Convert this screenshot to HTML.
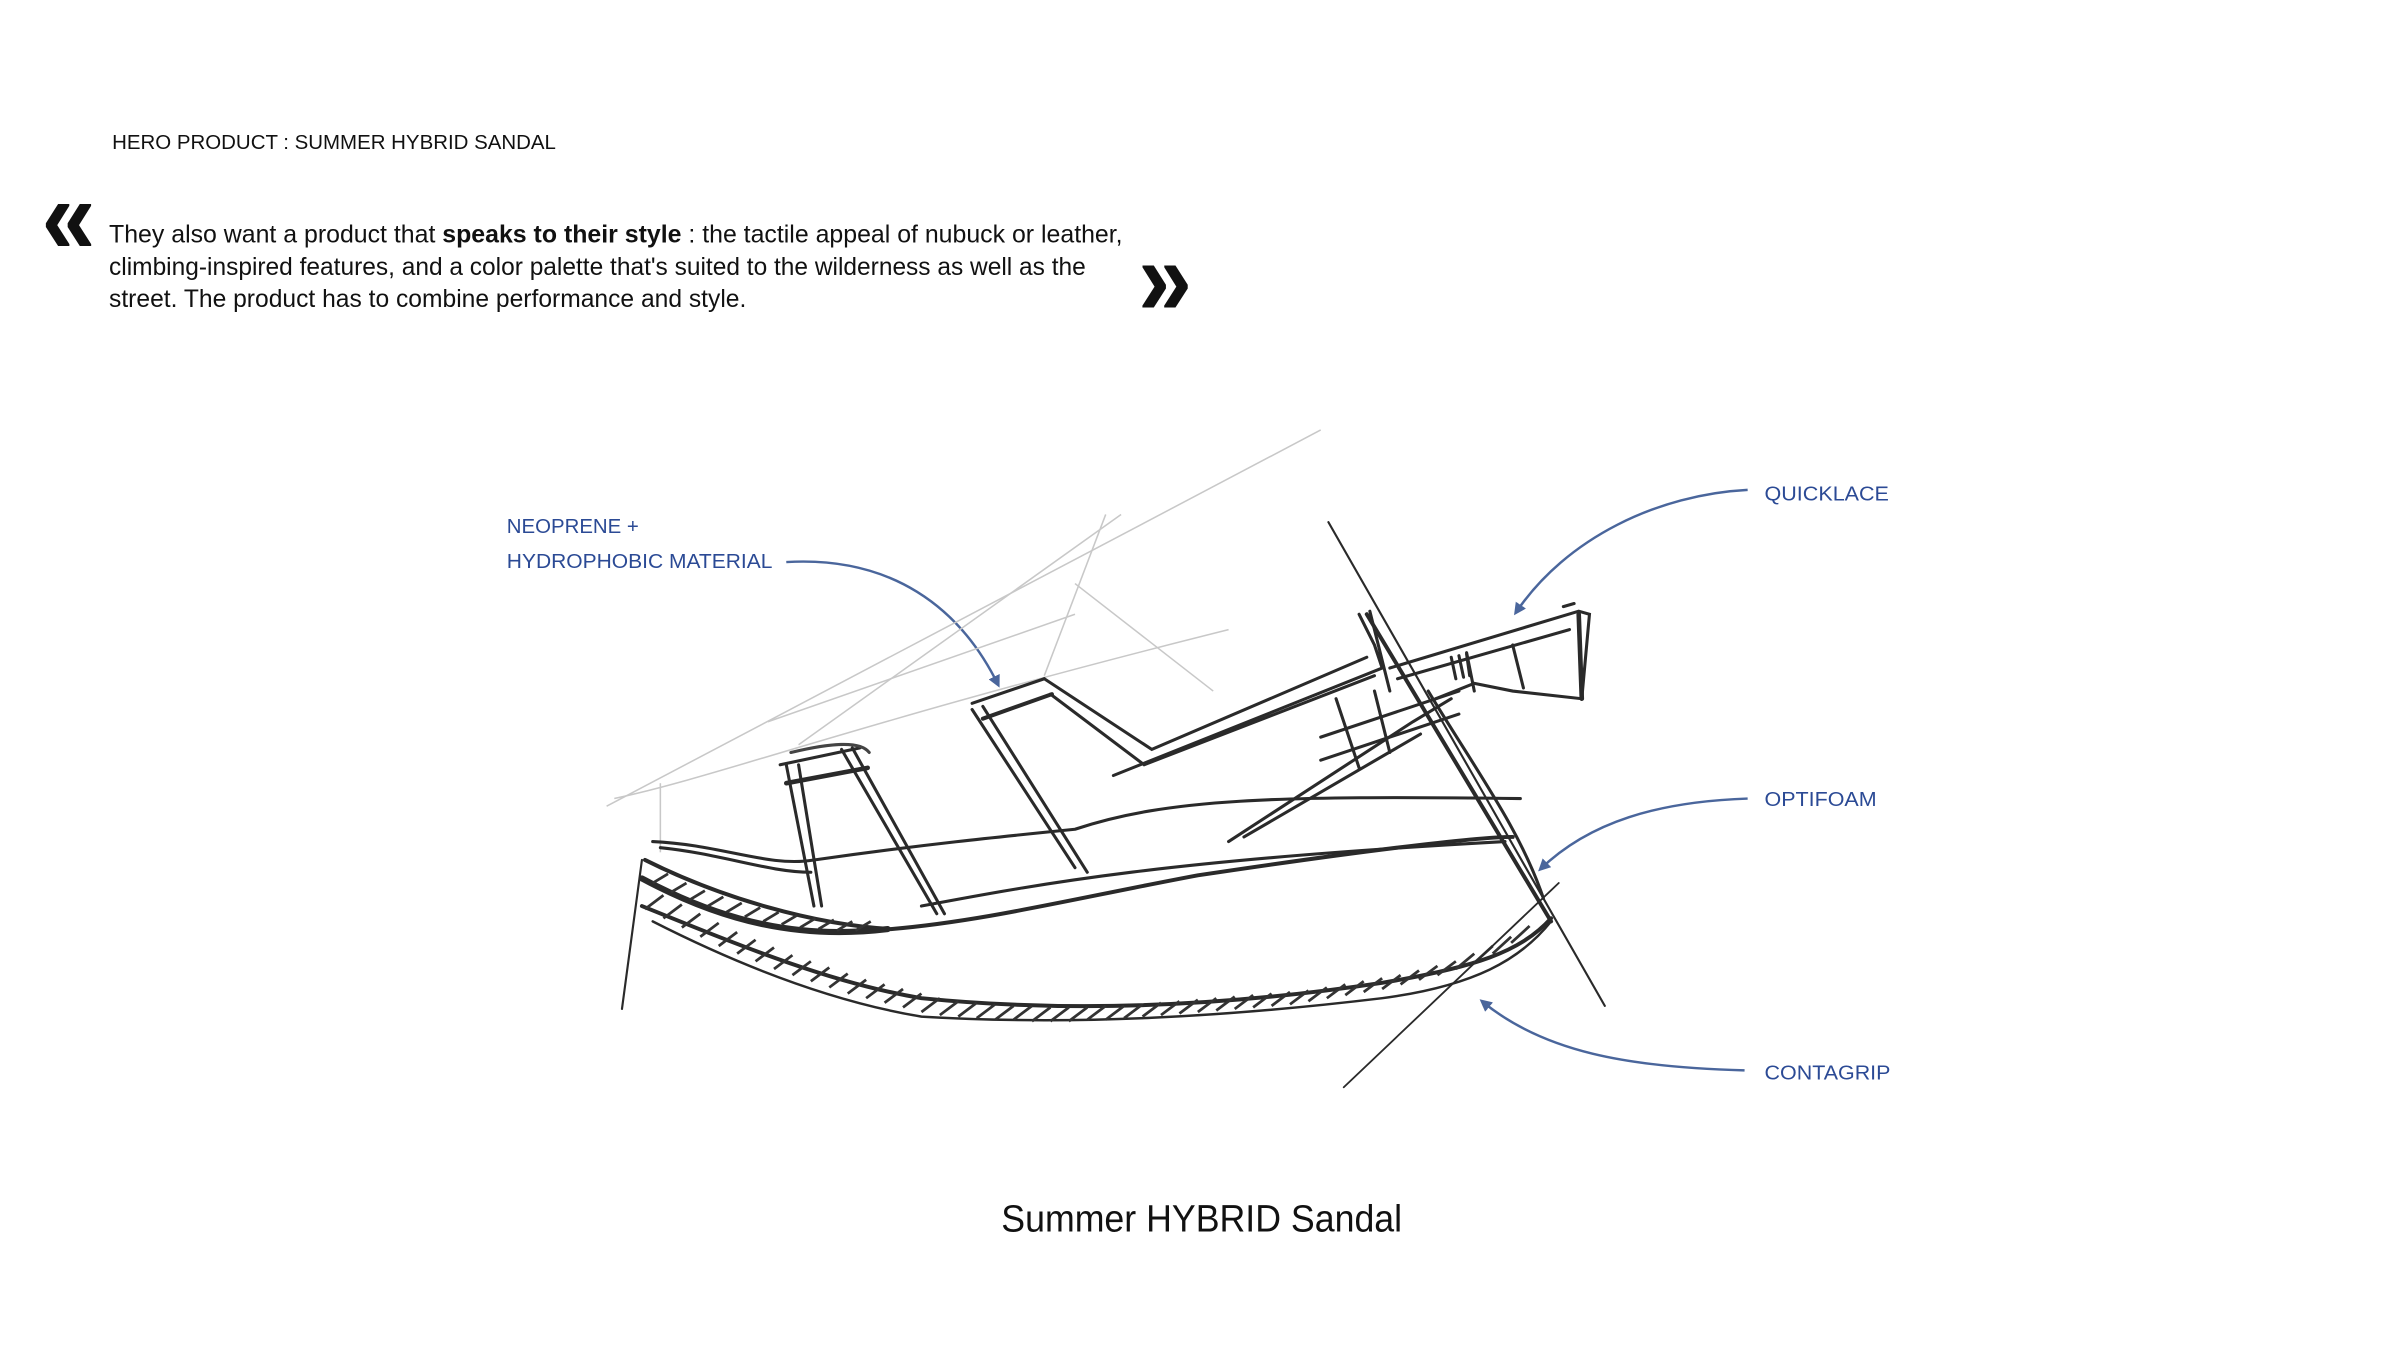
<!DOCTYPE html>
<html><head><meta charset="utf-8"><style>
html,body{margin:0;padding:0;background:#fff;width:2408px;height:1352px;overflow:hidden}
svg{display:block}
text{font-family:"Liberation Sans",sans-serif}
</style></head><body>
<svg width="2408" height="1352" viewBox="0 0 1568 880.4" preserveAspectRatio="none">
<defs>
<marker id="ah" markerWidth="8" markerHeight="8" refX="6" refY="4" orient="auto" markerUnits="userSpaceOnUse"><path d="M0,0 L8,4 L0,8 z" fill="#4a669c"/></marker>
</defs>
<rect width="1568" height="881" fill="#fff"/>
<text x="73" y="97" font-size="13.5" fill="#111" textLength="289" lengthAdjust="spacingAndGlyphs">HERO PRODUCT : SUMMER HYBRID SANDAL</text>
<text transform="translate(27,165) scale(0.55,1.4)" font-size="50" font-weight="bold" fill="#111" textLength="64" lengthAdjust="spacingAndGlyphs">«</text>
<text transform="translate(741,205) scale(0.55,1.4)" font-size="50" font-weight="bold" fill="#111" textLength="64" lengthAdjust="spacingAndGlyphs">»</text>
<g font-size="16" fill="#111">
<text x="71" y="158" textLength="660" lengthAdjust="spacingAndGlyphs">They also want a product that <tspan font-weight="bold">speaks to their style</tspan> : the tactile appeal of nubuck or leather,</text>
<text x="71" y="179" textLength="636" lengthAdjust="spacingAndGlyphs">climbing-inspired features, and a color palette that's suited to the wilderness as well as the</text>
<text x="71" y="200" textLength="415" lengthAdjust="spacingAndGlyphs">street. The product has to combine performance and style.</text>
</g>
<g font-size="13.5" fill="#2b4a95">
<text x="330" y="347" textLength="86" lengthAdjust="spacingAndGlyphs">NEOPRENE +</text>
<text x="330" y="370" textLength="173" lengthAdjust="spacingAndGlyphs">HYDROPHOBIC MATERIAL</text>
<text x="1149" y="326" textLength="81" lengthAdjust="spacingAndGlyphs">QUICKLACE</text>
<text x="1149" y="525" textLength="73" lengthAdjust="spacingAndGlyphs">OPTIFOAM</text>
<text x="1149" y="703" textLength="82" lengthAdjust="spacingAndGlyphs">CONTAGRIP</text>
</g>
<text x="652" y="802" font-size="25" fill="#111" textLength="261" lengthAdjust="spacingAndGlyphs">Summer HYBRID Sandal</text>
<g fill="none" stroke="#4a669c" stroke-width="1.6" marker-end="url(#ah)">
<path d="M512,366 C580,362 625,395 650,446"/>
<path d="M1138,319 C1080,322 1020,350 987,399"/>
<path d="M1138,520 C1080,522 1035,535 1003,566"/>
<path d="M1136,697 C1060,695 1005,685 965,652"/>
</g>
<g fill="none" stroke="#c8c8c8" stroke-width="1">
<path d="M395,525 L860,280"/><path d="M400,520 C470,505 560,470 800,410"/>
<path d="M520,485 L730,335"/><path d="M700,380 L790,450"/><path d="M680,440 L720,335"/>
<path d="M500,470 L700,400"/><path d="M430,510 L430,555"/>
</g>
<g fill="none" stroke="#2a2a2a" stroke-linecap="round" stroke-width="2">
<path d="M425,548 C470,550 500,565 530,560 C600,550 650,545 700,540 C760,520 830,518 990,520"/>
<path d="M430,552 C470,556 500,568 528,568"/>
<path d="M420,560 C470,585 530,602 580,605 C640,600 700,585 780,570 C880,555 960,545 985,545" stroke-width="2.6"/>
<path d="M600,590 C680,575 760,560 980,548"/>
<path d="M418,572 C470,600 520,612 578,605" stroke-width="4"/>
<path d="M418,590 C480,615 540,640 600,650 C700,660 800,655 900,640 C960,630 990,620 1010,598" stroke-width="2.6"/>
<path d="M425,600 C480,628 540,652 600,662 C700,668 800,662 900,650 C960,642 990,625 1010,600" stroke-width="1.6"/>
</g>
<g stroke="#333" stroke-width="1.8" fill="none">
<path d="M420,592 l12,-9 M432,598 l12,-9 M444,604 l12,-9 M456,610 l12,-9 M468,616 l12,-9 M480,621 l12,-9 M492,626 l12,-9 M504,631 l12,-9 M516,635 l12,-9 M528,639 l12,-9 M540,643 l12,-9 M552,647 l12,-9 M564,650 l12,-9 M576,653 l12,-9 M588,656 l12,-9 M600,659 l12,-9 M612,661 l12,-9 M624,662 l12,-9 M636,663 l12,-9 M648,664 l12,-9 M660,664 l12,-9 M672,665 l12,-9 M684,665 l12,-9 M696,665 l12,-9 M708,664 l12,-9 M720,664 l12,-9 M732,663 l12,-9 M744,662 l12,-9 M756,661 l12,-9 M768,660 l12,-9 M780,659 l12,-9 M792,658 l12,-9 M804,657 l12,-9 M816,656 l12,-9 M828,655 l12,-9 M840,654 l12,-9 M852,652 l12,-9 M864,650 l12,-9 M876,648 l12,-9 M888,646 l12,-9 M900,644 l12,-9 M912,641 l12,-9 M924,638 l12,-9 M936,635 l12,-9 M948,631 l12,-10 M960,627 l12,-11 M972,621 l12,-11 M984,614 l12,-11"/>
<path d="M425,575 l10,-6 M437,581 l10,-6 M449,586 l10,-6 M461,590 l10,-6 M473,594 l10,-6 M485,597 l10,-6 M497,600 l10,-6 M509,602 l10,-6 M521,604 l10,-6 M533,605 l10,-6 M545,606 l10,-6 M557,606 l10,-6"/>
</g>
<g fill="none" stroke="#2a2a2a" stroke-linecap="round" stroke-width="2">
<path d="M418,560 L405,657" stroke-width="1.4"/>
<path d="M865,340 L1045,655" stroke-width="1.4"/>
<path d="M890,400 L1010,600" stroke-width="2.6"/>
<path d="M930,450 C960,500 990,540 1005,585"/>
<path d="M1015,575 L875,708" stroke-width="1.2"/>
<path d="M512,498 L530,590"/><path d="M520,498 L535,590"/>
<path d="M548,488 L610,595"/><path d="M555,487 L615,595"/>
<path d="M633,462 L700,565"/><path d="M640,460 L708,568"/>
<path d="M508,498 L560,487"/><path d="M512,510 L565,500" stroke-width="3"/>
<path d="M633,458 L680,442"/><path d="M640,468 L685,452" stroke-width="2.6"/>
<path d="M515,490 C540,484 560,482 566,490" stroke="#444"/>
<path d="M680,442 L750,488 L890,428"/><path d="M684,452 L745,498 L895,440"/>
<path d="M725,505 L900,435"/>
<path d="M800,548 L920,470 L945,455"/><path d="M810,545 L925,478"/>
<path d="M860,480 L950,450"/><path d="M860,495 L950,465"/>
<path d="M885,400 L895,420 L900,435 M892,398 L905,450"/>
<path d="M870,455 L885,500 M895,450 L905,490"/>
<path d="M905,435 L1028,398 L1035,400 L1030,455 L985,450 L960,445 L935,455"/>
<path d="M910,442 L1022,410"/>
<path d="M955,425 L960,450 M985,420 L992,448"/>
<path d="M945,428 L948,442 M950,427 L953,441 M955,426 L957,440"/>
<path d="M1028,400 L1030,455" stroke-width="3"/>
<path d="M1018,395 L1025,393"/>
</g>
</svg>
</body></html>
